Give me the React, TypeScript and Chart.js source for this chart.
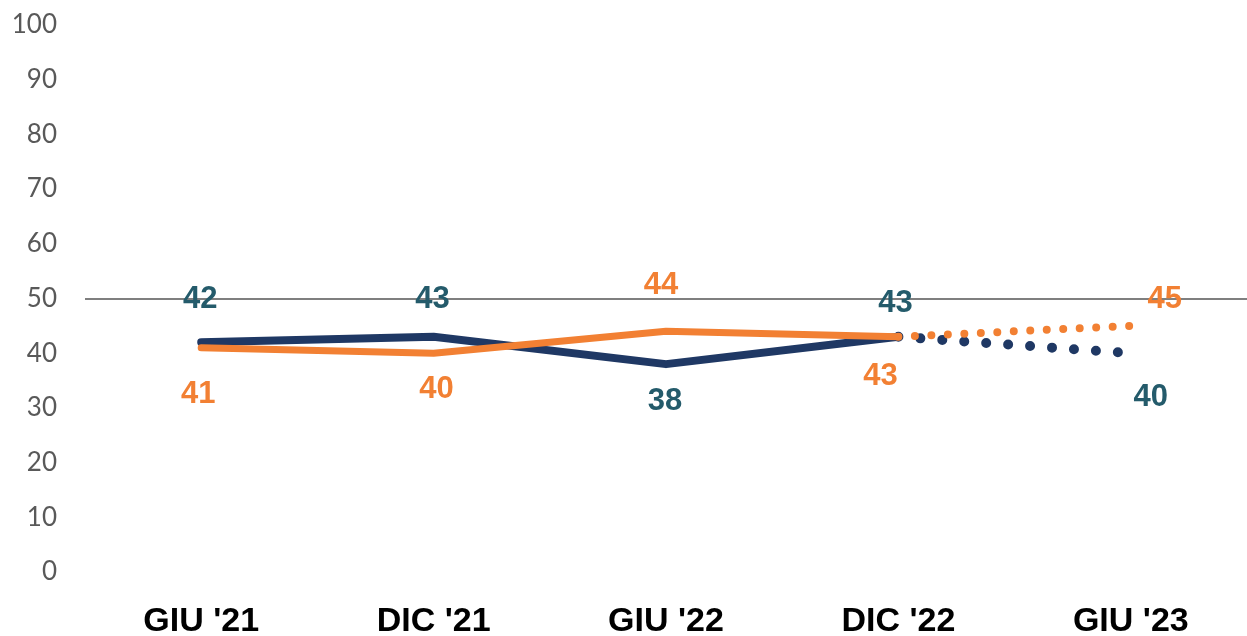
import React, { useEffect, useRef } from "react";
import { Chart, registerables } from "chart.js";

Chart.register(...registerables);

const categories = ["GIU '21", "DIC '21", "GIU '22", "DIC '22", "GIU '23"];
const navyValues = [42, 43, 38, 43, 40];
const orangeValues = [41, 40, 44, 43, 45];
const yTicks = [0, 10, 20, 30, 40, 50, 60, 70, 80, 90, 100];

const NAVY = "#1F3864";
const ORANGE = "#F28033";
const NAVY_LABEL = "#245B6B";

// label placement (style only): pixel offsets from each point
const labelStyle = [
  { color: NAVY_LABEL, dx: [-1, -1, -1, -3, 20], dy: [-43, -37, 37, -33, 44] },
  { color: ORANGE, dx: [-3, 3, -5, -18, 34], dy: [47, 36, -46, 40, -26] },
];

const labelPlugin = {
  id: "valueLabels",
  afterDatasetsDraw(chart: any) {
    const ctx = chart.ctx;
    ctx.save();
    ctx.font = "bold 31px 'Liberation Sans', Arial, sans-serif";
    ctx.textAlign = "center";
    ctx.textBaseline = "middle";
    chart.data.datasets.forEach((ds: any, di: number) => {
      const meta = chart.getDatasetMeta(di);
      const st = labelStyle[di];
      meta.data.forEach((pt: any, i: number) => {
        ctx.fillStyle = st.color;
        ctx.fillText(String(ds.data[i]), pt.x + st.dx[i], pt.y + st.dy[i]);
      });
    });
    ctx.restore();
  },
};

export default function App() {
  const ref = useRef<HTMLCanvasElement | null>(null);
  useEffect(() => {
    if (!ref.current) return;
    const dash = (gap: number) => (c: any) => (c.p0DataIndex >= 3 ? [0, gap] : undefined);
    const width = (solid: number, dotted: number) => (c: any) => (c.p0DataIndex >= 3 ? dotted : solid);
    const chart = new Chart(ref.current, {
      type: "line",
      data: {
        labels: categories,
        datasets: [
          {
            data: navyValues,
            borderColor: NAVY,
            borderWidth: 8,
            borderCapStyle: "round",
            borderJoinStyle: "round",
            pointRadius: 0,
            tension: 0,
            order: 2,
            segment: { borderDash: dash(22), borderWidth: width(8, 10) },
          } as any,
          {
            data: orangeValues,
            borderColor: ORANGE,
            borderWidth: 7,
            borderCapStyle: "round",
            borderJoinStyle: "round",
            pointRadius: 0,
            tension: 0,
            order: 1,
            segment: { borderDash: dash(16.5), borderWidth: width(7, 8) },
          } as any,
        ],
      },
      options: {
        animation: false,
        responsive: false,
        maintainAspectRatio: false,
        layout: { padding: { top: 25, right: 0, left: 0, bottom: 0 } },
        plugins: {
          legend: { display: false },
          tooltip: { enabled: false },
        },
        scales: {
          x: {
            offset: true,
            afterFit: (s: any) => {
              s.height = 64;
              s.paddingLeft = 0;
              s.paddingRight = 0;
            },
            grid: { display: false, drawTicks: false },
            border: { display: false },
            ticks: {
              color: "#000000",
              padding: 29,
              font: { family: "'Liberation Sans', Arial, sans-serif", weight: "bold", size: 34 },
            },
          },
          y: {
            min: 0,
            max: 100,
            afterFit: (s: any) => {
              s.width = 85;
              s.paddingTop = 0;
              s.paddingBottom = 0;
            },
            afterBuildTicks: (s: any) => {
              s.ticks = yTicks.map((v) => ({ value: v }));
            },
            grid: {
              drawTicks: false,
              color: (c: any) => (c.tick && c.tick.value === 50 ? "#7F7F7F" : "rgba(0,0,0,0)"),
              lineWidth: 2,
            },
            border: { display: false },
            ticks: {
              color: "#595959",
              padding: 28,
              font: { family: "Lato, 'DejaVu Sans', sans-serif", size: 26 },
            },
          },
        },
      },
      plugins: [labelPlugin],
    });
    return () => chart.destroy();
  }, []);
  return (
    <div style={{ position: "fixed", left: 0, top: 0, width: 1247, height: 636, background: "#fff" }}>
      <canvas ref={ref} width={1247} height={636} />
    </div>
  );
}
